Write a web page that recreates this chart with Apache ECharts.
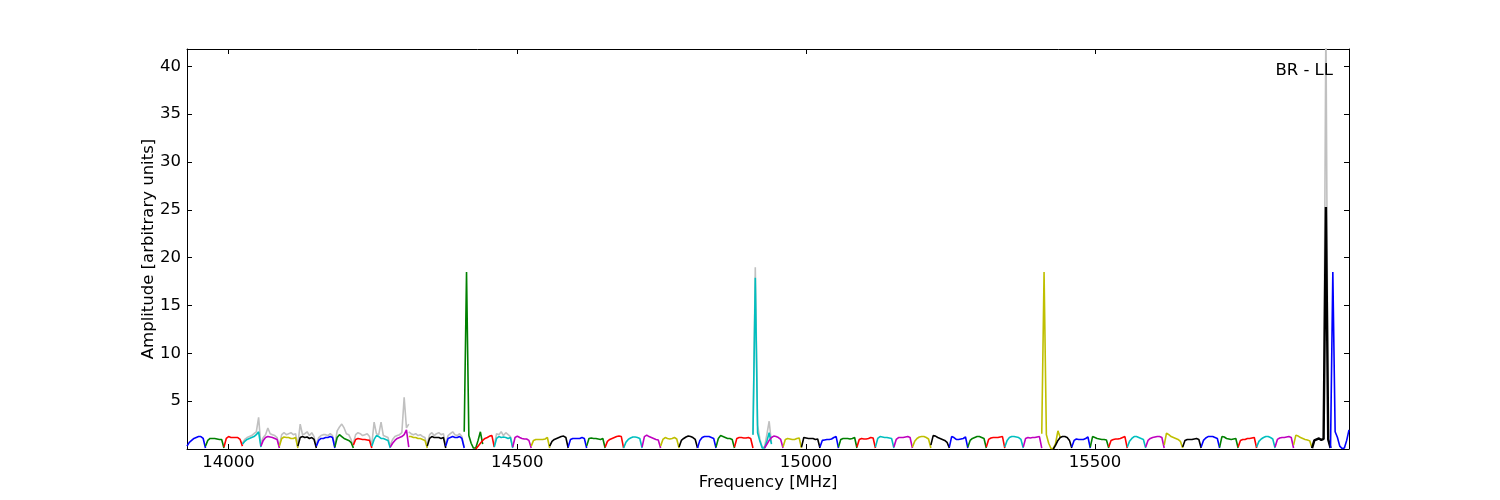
<!DOCTYPE html>
<html>
<head>
<meta charset="utf-8">
<script src="https://cdn.jsdelivr.net/npm/echarts@6/dist/echarts.min.js"></script>
<style>
html,body{margin:0;padding:0;background:#fff;}
#chart{width:1500px;height:500px;}
</style>
</head>
<body>
<div id="chart"></div>
<script>
// ---- data ----
const blockStarts = [13928, 14428, 14928, 15428]; // MHz, 16 subbands each
const subbandWidth = 32;   // MHz
const channelStep = 4;     // MHz between channels (9 channels per subband)
const colorCycle = ['#0000ff', '#008000', '#ff0000', '#00bfbf', '#bf00bf', '#bfbf00', '#000000'];
const xTicks = [14000, 14500, 15000, 15500];
const yTicks = [5, 10, 15, 20, 25, 30, 35, 40];
const panelLabel = 'BR - LL';

// amplitudes per subband (64 subbands x 9 channels)
const subbandAmp = [
  [0.3, 0.7, 0.9, 1.1, 1.2, 1.3, 1.3, 1.1, 0.1],
  [0.3, 0.9, 1.1, 1.1, 1.1, 1.05, 1.0, 1.0, 0.1],
  [0.2, 1.1, 1.3, 1.2, 1.2, 1.2, 1.2, 1.0, 0.3],
  [0.5, 0.8, 1.0, 1.1, 1.2, 1.3, 1.5, 1.8, 0.2],
  [0.3, 0.9, 1.2, 1.3, 1.25, 1.2, 1.1, 1.0, 0.1],
  [0.3, 1.1, 1.25, 1.2, 1.2, 1.1, 1.1, 1.2, 0.1],
  [0.3, 1.2, 1.3, 1.2, 1.25, 1.1, 1.2, 1.0, 0.1],
  [0.3, 0.9, 1.1, 1.1, 1.2, 1.2, 1.3, 1.2, 0.1],
  [0.2, 1.2, 1.5, 1.3, 1.1, 1.0, 0.9, 0.7, 0.1],
  [0.4, 1.0, 1.1, 1.05, 1.0, 1.0, 0.95, 0.9, 0.1],
  [0.3, 1.0, 1.4, 1.3, 1.1, 1.1, 1.0, 0.9, 0.1],
  [0.2, 0.6, 0.9, 1.1, 1.2, 1.3, 1.5, 2.0, 0.2],
  [1.3, 1.3, 1.2, 1.2, 1.1, 1.1, 1.0, 0.9, 0.1],
  [0.3, 1.1, 1.3, 1.2, 1.2, 1.2, 1.1, 1.2, 0.1],
  [0.3, 1.1, 1.2, 1.3, 1.2, 1.2, 1.3, 1.1, 0.1],
  [1.8, 18.5, 1.4, 0.6, 0.1, 0.1, 0.9, 1.8, 0.5],
  [0.0, 0.3, 0.6, 0.9, 1.1, 1.2, 1.35, 1.4, 0.2],
  [0.2, 1.1, 1.3, 1.2, 1.25, 1.2, 1.1, 1.2, 0.1],
  [0.2, 1.2, 1.35, 1.2, 1.1, 1.05, 1.05, 0.9, 0.1],
  [0.3, 0.9, 1.0, 1.0, 1.0, 1.0, 1.05, 1.2, 0.1],
  [0.3, 0.8, 1.0, 1.1, 1.2, 1.3, 1.35, 1.2, 0.1],
  [0.2, 1.0, 1.1, 1.1, 1.1, 1.1, 1.2, 1.1, 0.1],
  [0.3, 1.1, 1.15, 1.1, 1.1, 1.05, 1.0, 1.1, 0.1],
  [0.2, 0.8, 1.0, 1.1, 1.2, 1.3, 1.35, 1.3, 0.1],
  [0.1, 0.7, 1.0, 1.15, 1.25, 1.25, 1.2, 1.1, 0.1],
  [0.2, 1.3, 1.45, 1.3, 1.2, 1.1, 1.0, 0.95, 0.1],
  [0.3, 1.0, 1.2, 1.1, 1.05, 1.1, 1.2, 1.05, 0.1],
  [0.2, 0.9, 1.1, 1.25, 1.35, 1.3, 1.2, 1.0, 0.1],
  [0.1, 0.9, 1.2, 1.3, 1.3, 1.3, 1.2, 1.1, 0.1],
  [0.2, 1.1, 1.4, 1.3, 1.2, 1.1, 1.1, 1.0, 0.1],
  [0.2, 1.1, 1.2, 1.2, 1.15, 1.15, 1.2, 1.1, 0.1],
  [1.5, 17.9, 1.7, 0.8, 0.1, 0.1, 0.8, 1.7, 0.5],
  [0.1, 0.5, 0.9, 1.2, 1.35, 1.3, 1.2, 1.0, 0.1],
  [0.2, 1.0, 1.1, 1.05, 1.0, 1.0, 1.1, 1.15, 0.1],
  [0.2, 1.2, 1.15, 1.1, 1.1, 1.1, 1.0, 1.05, 0.1],
  [0.2, 0.9, 0.95, 1.0, 1.0, 1.05, 1.2, 1.3, 0.1],
  [0.2, 1.0, 1.1, 1.1, 1.1, 1.05, 1.1, 1.2, 0.1],
  [0.2, 1.0, 1.1, 1.05, 1.05, 1.1, 1.2, 1.15, 0.1],
  [0.2, 1.1, 1.3, 1.25, 1.2, 1.2, 1.15, 1.1, 0.1],
  [0.2, 1.0, 1.2, 1.2, 1.2, 1.25, 1.3, 1.2, 0.1],
  [0.2, 0.8, 1.1, 1.25, 1.3, 1.3, 1.2, 1.05, 0.1],
  [0.4, 1.4, 1.35, 1.2, 1.1, 1.0, 0.9, 0.7, 0.1],
  [0.2, 1.3, 1.2, 1.0, 1.0, 1.05, 1.1, 1.25, 0.1],
  [0.2, 0.9, 1.1, 1.2, 1.3, 1.3, 1.2, 1.1, 0.1],
  [0.2, 1.0, 1.15, 1.2, 1.2, 1.2, 1.25, 1.3, 0.1],
  [0.2, 0.9, 1.2, 1.3, 1.3, 1.25, 1.2, 1.0, 0.1],
  [0.2, 1.1, 1.2, 1.15, 1.2, 1.2, 1.25, 1.3, 0.1],
  [1.6, 18.5, 1.5, 0.6, 0.05, 0.05, 0.6, 1.9, 1.2],
  [0.0, 0.4, 0.9, 1.2, 1.3, 1.3, 1.2, 0.9, 0.1],
  [0.2, 0.9, 1.05, 1.0, 1.0, 1.0, 1.1, 1.25, 0.1],
  [0.2, 1.3, 1.2, 1.1, 1.05, 1.0, 1.0, 0.95, 0.1],
  [0.2, 0.9, 1.0, 1.05, 1.05, 1.1, 1.2, 1.3, 0.1],
  [0.2, 0.8, 1.1, 1.3, 1.3, 1.2, 1.1, 1.0, 0.1],
  [0.2, 0.9, 1.1, 1.2, 1.25, 1.3, 1.3, 1.2, 0.1],
  [0.4, 1.65, 1.5, 1.3, 1.2, 1.1, 1.0, 0.8, 0.1],
  [0.2, 0.9, 1.0, 1.0, 1.0, 1.05, 1.1, 1.0, 0.1],
  [0.2, 0.9, 1.15, 1.3, 1.3, 1.3, 1.2, 1.1, 0.1],
  [0.2, 1.3, 1.25, 1.1, 1.05, 1.0, 1.05, 1.1, 0.1],
  [0.2, 0.9, 1.0, 1.0, 1.1, 1.1, 1.15, 1.2, 0.1],
  [0.2, 0.8, 1.05, 1.2, 1.3, 1.3, 1.2, 1.05, 0.1],
  [0.2, 1.0, 1.15, 1.2, 1.2, 1.25, 1.3, 1.2, 0.1],
  [0.4, 1.45, 1.35, 1.2, 1.1, 1.0, 0.95, 0.85, 0.1],
  [0.1, 0.9, 1.0, 1.1, 0.95, 1.05, 25.3, 1.0, 0.1],
  [0.1, 18.5, 1.8, 1.2, 0.3, 0.05, 0.1, 0.9, 2.0]
];

// grey (unflagged) spectrum, visible where it rises above the coloured one
const greySubbands = [3, 4, 5, 6, 7, 8, 9, 10, 11, 12, 13, 14, 17, 31, 62];
const greyAmp = [
  [0.6, 1.0, 1.2, 1.3, 1.4, 1.6, 1.8, 3.3, 0.3],
  [0.5, 1.2, 1.5, 2.2, 1.6, 1.5, 1.4, 1.2, 0.2],
  [0.4, 1.5, 1.7, 1.5, 1.6, 1.7, 1.5, 1.6, 0.2],
  [0.5, 2.6, 1.5, 1.6, 1.8, 1.4, 1.7, 1.3, 0.2],
  [0.5, 1.2, 1.4, 1.5, 1.5, 1.4, 1.6, 1.4, 0.2],
  [0.4, 1.9, 2.3, 2.6, 2.2, 1.6, 1.5, 1.0, 0.2],
  [0.6, 1.5, 1.7, 1.6, 1.4, 1.5, 1.6, 1.3, 0.2],
  [0.5, 2.8, 1.6, 1.5, 2.8, 1.4, 1.3, 1.2, 0.2],
  [0.4, 1.0, 1.3, 1.4, 1.5, 1.7, 5.4, 2.2, 2.6],
  [1.8, 1.6, 1.5, 1.6, 1.4, 1.5, 1.3, 1.2, 0.2],
  [0.5, 1.5, 1.7, 1.4, 1.6, 1.7, 1.5, 1.6, 0.2],
  [0.5, 1.4, 1.6, 1.8, 1.5, 1.4, 1.6, 1.3, 0.2],
  [0.3, 1.6, 1.5, 1.8, 1.4, 1.7, 1.5, 1.3, 0.2],
  [1.5, 19.0, 2.5, 1.0, 0.2, 0.2, 1.5, 2.9, 0.6],
  [0.1, 0.9, 1.0, 1.1, 0.95, 1.05, 45.0, 1.0, 0.1]
];

// ---- build ----
function subbandFreq(k, j) {
  return blockStarts[Math.floor(k / 16)] + subbandWidth * (k % 16) + channelStep * j;
}

const series = [];
const greyData = [];
greySubbands.forEach((k, i) => {
  greyAmp[i].forEach((v, j) => greyData.push([subbandFreq(k, j), v]));
  greyData.push([subbandFreq(k, 8) + 0.01, '-']);
});
series.push({
  type: 'line', data: greyData, showSymbol: false, connectNulls: false,
  lineStyle: { color: '#c0c0c0', width: 1.6 }, z: 1, silent: true, animation: false
});
subbandAmp.forEach((vals, k) => {
  series.push({
    type: 'line',
    data: vals.map((v, j) => [subbandFreq(k, j), v]),
    showSymbol: false,
    lineStyle: { color: colorCycle[k % colorCycle.length], width: k === 62 ? 2.4 : 1.6 },
    z: 2, silent: true, animation: false
  });
});

const font = 'DejaVu Sans, sans-serif';
const fs = 16.5;
const chart = echarts.init(document.getElementById('chart'), null, { renderer: 'canvas' });
const xMin = 13928, xMax = 15940, yMin = 0, yMax = 41.8;
chart.setOption({
  backgroundColor: '#ffffff',
  animation: false,
  grid: { left: 187, right: 151, top: 49, bottom: 51, containLabel: false },
  xAxis: [
    {
      type: 'value', min: xMin, max: xMax, position: 'bottom',
      name: 'Frequency [MHz]', nameLocation: 'middle', nameGap: 25, nameMoveOverlap: false,
      nameTextStyle: { fontFamily: font, fontSize: fs, color: '#000' },
      axisLine: { show: true, lineStyle: { color: '#000', width: 1 } },
      axisTick: { show: true, inside: true, length: 5, customValues: xTicks, lineStyle: { color: '#000' } },
      axisLabel: { show: true, customValues: xTicks, formatter: v => String(v), fontFamily: font, fontSize: fs, color: '#000', margin: 5 },
      splitLine: { show: false }
    },
    {
      type: 'value', min: xMin, max: xMax, position: 'top',
      axisLine: { show: true, onZero: false, lineStyle: { color: '#000', width: 1 } },
      axisTick: { show: true, inside: true, length: 5, customValues: xTicks, lineStyle: { color: '#000' } },
      axisLabel: { show: false },
      splitLine: { show: false }
    }
  ],
  yAxis: [
    {
      type: 'value', min: yMin, max: yMax, position: 'left',
      name: 'Amplitude [arbitrary units]', nameLocation: 'middle', nameGap: 30, nameRotate: 90, nameMoveOverlap: false,
      nameTextStyle: { fontFamily: font, fontSize: fs, color: '#000' },
      axisLine: { show: true, onZero: false, lineStyle: { color: '#000', width: 1 } },
      axisTick: { show: true, inside: true, length: 5, customValues: yTicks, lineStyle: { color: '#000' } },
      axisLabel: { show: true, customValues: yTicks, formatter: v => String(v), fontFamily: font, fontSize: fs, color: '#000', margin: 6 },
      splitLine: { show: false }
    },
    {
      type: 'value', min: yMin, max: yMax, position: 'right',
      axisLine: { show: true, onZero: false, lineStyle: { color: '#000', width: 1 } },
      axisTick: { show: true, inside: true, length: 5, customValues: yTicks, lineStyle: { color: '#000' } },
      axisLabel: { show: false },
      splitLine: { show: false }
    }
  ],
  graphic: [{
    type: 'text', right: 167, top: 62,
    style: { text: panelLabel, fontFamily: font, fontSize: fs, fill: '#000' }, z: 10
  }],
  series: series
});
</script>
</body>
</html>
